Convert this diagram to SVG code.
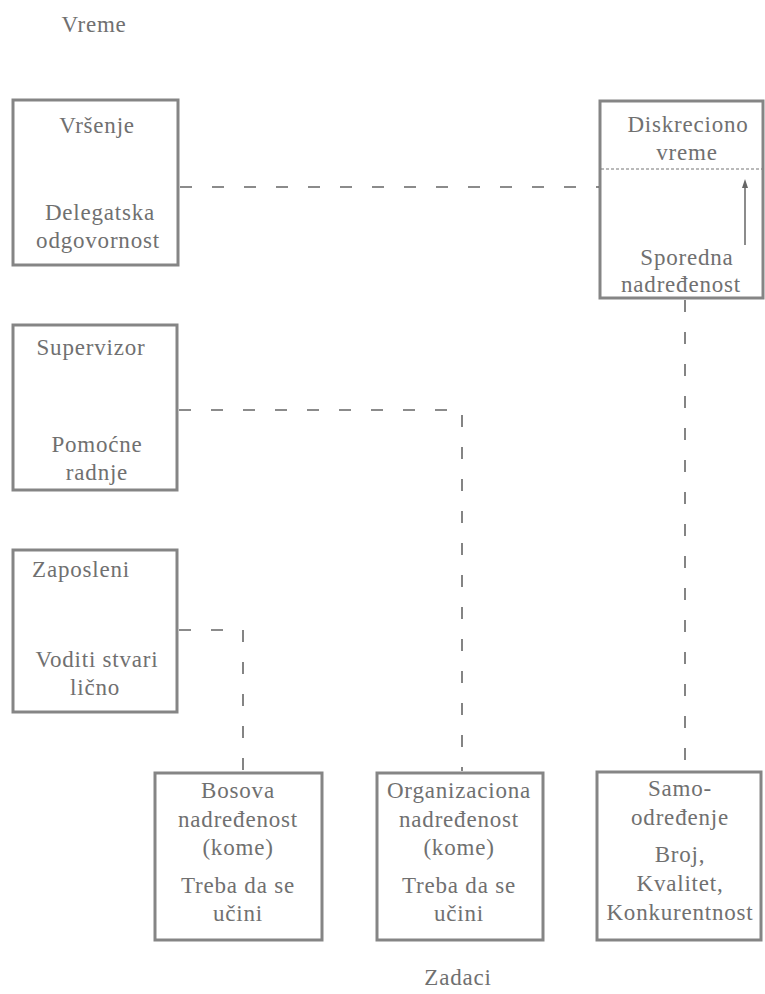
<svg xmlns="http://www.w3.org/2000/svg" width="765" height="994" viewBox="0 0 765 994">
<defs>
<style>
.box{fill:#fff;stroke:#858585;stroke-width:3}
.c{fill:none;stroke:#666;stroke-width:1.6;stroke-dasharray:12 20}
.d{fill:none;stroke:#777;stroke-width:1.2;stroke-dasharray:3 2}
.a{fill:none;stroke:#666;stroke-width:1.5}
</style>
</defs>
<rect width="765" height="994" fill="#fff"/>
<g font-family="Liberation Serif, Times New Roman, serif" font-size="23" fill="#707070" text-anchor="middle" letter-spacing="0.8">
<text x="94" y="32">Vreme</text>
<text x="458" y="985">Zadaci</text>
<g id="vrsenje">
<rect class="box" x="13" y="100" width="165" height="165"/>
<text x="97" y="133">Vršenje</text>
<text x="100" y="220">Delegatska</text>
<text x="98" y="248">odgovornost</text>
</g>
<g id="supervizor">
<rect class="box" x="13" y="325" width="164" height="165"/>
<text x="91" y="355">Supervizor</text>
<text x="97" y="452">Pomoćne</text>
<text x="97" y="480">radnje</text>
</g>
<g id="zaposleni">
<rect class="box" x="13" y="550" width="164" height="162"/>
<text x="81" y="577">Zaposleni</text>
<text x="97" y="667">Voditi stvari</text>
<text x="95" y="695">lično</text>
</g>
<g id="diskreciono">
<rect class="box" x="600" y="101" width="163" height="197"/>
<path class="d" d="M601,169 H762"/>
<text x="688" y="132">Diskreciono</text>
<text x="687" y="160">vreme</text>
<text x="687" y="265">Sporedna</text>
<text x="681" y="292">nadređenost</text>
</g>
<g id="bosova">
<rect class="box" x="155" y="773" width="167" height="167"/>
<text x="238" y="798">Bosova</text>
<text x="238" y="827">nadređenost</text>
<text x="238" y="855">(kome)</text>
<text x="238" y="893">Treba da se</text>
<text x="238" y="921">učini</text>
</g>
<g id="organizaciona">
<rect class="box" x="377" y="773" width="166" height="167"/>
<text x="459" y="798">Organizaciona</text>
<text x="459" y="827">nadređenost</text>
<text x="459" y="855">(kome)</text>
<text x="459" y="893">Treba da se</text>
<text x="459" y="921">učini</text>
</g>
<g id="samoodredjenje">
<rect class="box" x="597" y="772" width="164" height="168"/>
<text x="680" y="796">Samo-</text>
<text x="680" y="825">određenje</text>
<text x="680" y="862">Broj,</text>
<text x="680" y="891">Kvalitet,</text>
<text x="680" y="920">Konkurentnost</text>
</g>
</g>
<g id="connectors">
<path class="c" d="M180,187 H599"/>
<path class="c" d="M179,410 H462 V771"/>
<path class="c" d="M179,630 H243 V771"/>
<path class="c" d="M685,300 V770"/>
<path class="a" d="M745,245 L745,182"/>
<path d="M742,188 L745,179 L748,188 Z" fill="#666"/>
</g>
</svg>
